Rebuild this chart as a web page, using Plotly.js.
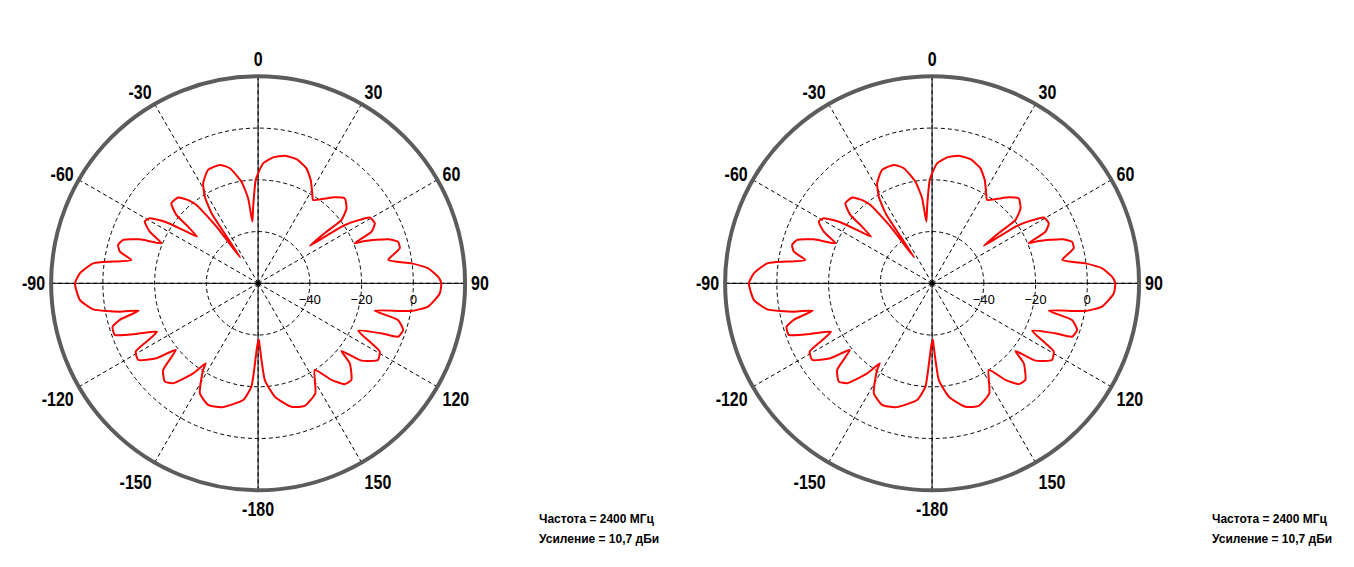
<!DOCTYPE html>
<html>
<head>
<meta charset="utf-8">
<script src="https://cdn.plot.ly/plotly-3.0.1.min.js"></script>
<style>html,body{margin:0;padding:0;background:#fff;}#chart{width:1354px;height:567px;}</style>
</head>
<body>
<div id="chart"></div>
<script>
// Radiation pattern (degrees, dBi)
const patternTheta = [0, 2.4, 6.8, 11.8, 17.2, 22.8, 27.0, 31.0, 33.4, 37.6, 41.7, 45.6, 49.7, 52.8, 53.0, 54.0, 55.2, 56.1, 59.5, 62.8, 65.5, 67.5, 68.4, 71.3, 73.4, 76.1, 79.8, 82.6, 85.0, 87.9, 90, 93.2, 97.8, 100.2, 103.2, 104.7, 107.8, 110.9, 112.1, 115.3, 117.9, 119.3, 122.6, 126.8, 129.1, 131.1, 136.0, 139.3, 142.8, 146.8, 152.5, 159.2, 164.9, 171.6, 176.0, 178.5, 179.3,
  -179.1, -178.2, -176.3, -172.7, -163.5, -157.7, -152.1, -147.6, -146.8, -144.2, -139.6, -136.5, -132.4, -129.0, -126.4, -122.6, -119.2, -117.6, -115.6, -112.6, -109.8, -106.6, -104.8, -102.9, -101.6, -99.0, -95.3, -90, -86.8, -83.1, -81.5, -79.6, -77.1, -74.7, -72.2, -69.6, -67.5, -64.5, -61.4, -59.0, -56.4, -54.6, -52.6, -50.9, -50.1, -47.3, -43.0, -40.0, -38.2, -36.3, -34.6, -34.0, -33.6, -31.6, -28.8, -23.8, -17.9, -13.8, -9.3, -6.7, -5.3, -3.7, -2.2, -1.3, 0];
const patternGain = [-17.5, -13.6, -11.0, -9.6, -9.8, -11.8, -15.2, -19.4, -21.4, -18.8, -15.5, -13.1, -15.2, -19.5, -27.4, -35.3, -27.5, -19.6, -9.9, -9.3, -11.8, -19.6, -15.6, -6.9, -3.6, -3.6, -8.9, -0.2, 6.0, 9.6, 10.8, 10.3, 6.3, 0.2, -13.7, -4.1, -1.1, -2.1, -8.6, -17.2, -10.4, -6.1, -5.0, -10.1, -18.5, -13.0, -8.1, -8.6, -13.1, -20.0, -12.1, -9.3, -10.6, -15.7, -22.5, -35.5, -38.3,
  -35.5, -31.6, -20.0, -14.5, -10.0, -9.2, -11.9, -20.3, -23.0, -17.1, -9.3, -7.6, -10.3, -19.1, -11.2, -5.0, -5.8, -11.3, -16.7, -9.1, -1.1, -1.3, -4.7, -12.7, -5.4, 4.5, 9.2, 10.8, 9.0, 4.2, -3.3, -10.2, -5.2, -3.9, -5.2, -11.2, -19.6, -13.6, -10.1, -11.2, -17.4, -24.4, -30.3, -24.3, -18.8, -14.4, -14.7, -18.0, -21.5, -32.8, -47.9, -38.0, -27.5, -20.7, -15.9, -12.1, -11.9, -14.2, -20.2, -26.9, -36.1, -30.3, -23.9, -20.0, -17.5];

const angleTicks = [0, 30, 60, 90, 120, 150, 180, 210, 240, 270, 300, 330];
const angleLabels = ['0', '30', '60', '90', '120', '150', '-180', '-150', '-120', '-90', '-60', '-30'];
const radialTicks = [-40, -20, 0];
const radialRange = [-60, 20];
const infoLines = ['Частота = 2400 МГц', 'Усиление = 10,7 дБи'];

function polarLayout(xd) {
  return {
    domain: {x: xd, y: [0.1353, 0.8654]},
    bgcolor: 'white',
    angularaxis: {
      rotation: 90, direction: 'clockwise',
      tickmode: 'array', tickvals: angleTicks, ticktext: angleLabels,
      showline: true, linecolor: '#5c5c5c', linewidth: 4,
      showgrid: true, gridcolor: 'black', gridwidth: 1, griddash: '4px,3px',
      ticks: '',
      tickfont: {family: '"Liberation Sans", Arial, sans-serif', size: 20, color: 'black', weight: 'bold'}
    },
    radialaxis: {
      range: radialRange, tickmode: 'array', tickvals: radialTicks,
      angle: 0, side: 'clockwise', showline: false,
      ticks: 'outside', ticklen: 5, tickcolor: 'rgba(0,0,0,0)',
      showgrid: true, gridcolor: 'black', gridwidth: 1, griddash: '4px,3px',
      tickfont: {family: '"Noto Sans", sans-serif', size: 13, color: 'black'}
    }
  };
}

const traces = [];
['polar', 'polar2'].forEach(function (sp) {
  traces.push({type: 'scatterpolar', subplot: sp, mode: 'lines', r: [radialRange[1], radialRange[0], radialRange[1]], theta: [0, 0, 180], line: {color: 'black', width: 1}, hoverinfo: 'skip'});
  traces.push({type: 'scatterpolar', subplot: sp, mode: 'lines', r: [radialRange[1], radialRange[0], radialRange[1]], theta: [90, 90, 270], line: {color: 'black', width: 1}, hoverinfo: 'skip'});
  traces.push({type: 'scatterpolar', subplot: sp, mode: 'lines', r: patternGain, theta: patternTheta, line: {color: '#ff0000', width: 2, shape: 'spline', smoothing: 0.5}});
  traces.push({type: 'scatterpolar', subplot: sp, mode: 'markers', r: [radialRange[0]], theta: [0], marker: {symbol: 'circle-open', size: 4, color: 'black', line: {width: 1}}, hoverinfo: 'skip'});
});

function infoAnn(x) {
  return infoLines.map(function (t, i) {
    return {xref: 'paper', yref: 'paper', x: x, y: i === 0 ? 0.0846 : 0.0494, xanchor: 'left', yanchor: 'middle',
      text: t, showarrow: false, font: {family: '"Liberation Sans", Arial, sans-serif', size: 12, color: 'black', weight: 'bold'}};
  });
}

const layout = {
  width: 1354, height: 567,
  margin: {l: 0, r: 0, t: 0, b: 0},
  paper_bgcolor: 'white',
  showlegend: false,
  polar: polarLayout([0.03775, 0.34350]),
  polar2: polarLayout([0.53552, 0.84128]),
  annotations: infoAnn(0.3966).concat(infoAnn(0.8936))
};

Plotly.newPlot('chart', traces, layout, {staticPlot: true}).then(function () {
  // condensed look of the angular tick labels
  document.querySelectorAll('g.angularaxistick text').forEach(function (t) {
    const w = t.getComputedTextLength();
    t.setAttribute('textLength', (w * 0.8).toFixed(1));
    t.setAttribute('lengthAdjust', 'spacingAndGlyphs');
  });
});
</script>
</body>
</html>
